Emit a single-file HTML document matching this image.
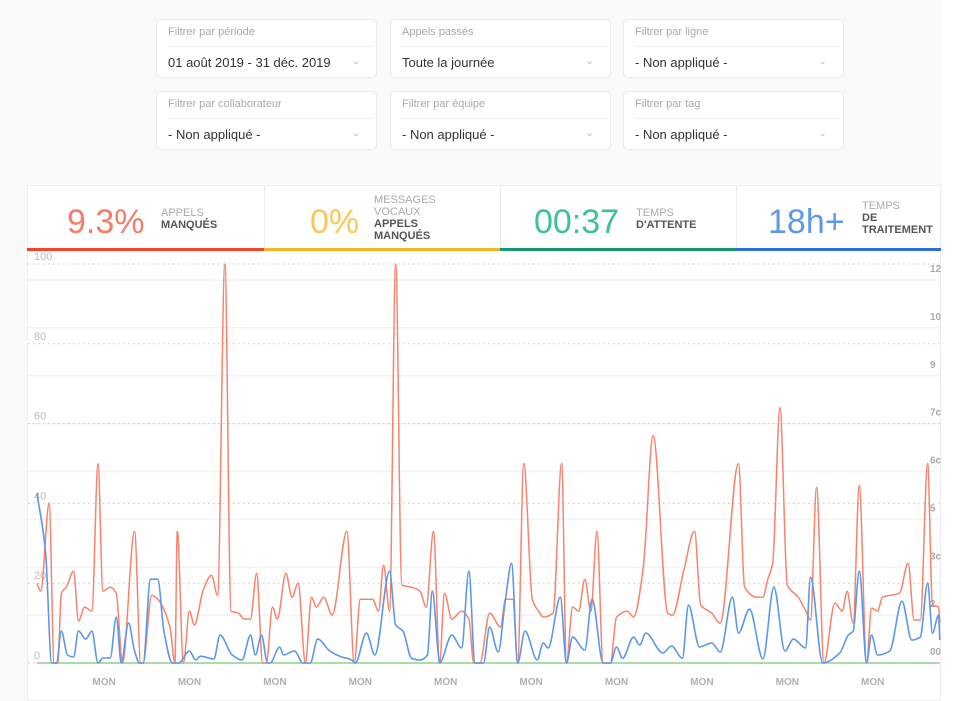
<!DOCTYPE html>
<html><head><meta charset="utf-8">
<style>
html,body{margin:0;padding:0;width:976px;height:701px;overflow:hidden;background:#fff;font-family:"Liberation Sans",sans-serif;}
#page{position:absolute;left:0;top:0;width:941px;height:701px;background:#fafaf8;}
.filter{position:absolute;width:221px;height:59px;background:#fff;border:1px solid #ebebea;border-radius:5px;box-sizing:border-box;}
.filter .lbl{position:absolute;left:11px;top:6px;font-size:11px;color:#a9a9a9;}
.filter .sep{position:absolute;left:11px;right:3px;top:26px;border-top:1px solid #eee;}
.filter .val{position:absolute;left:11px;top:35px;font-size:13px;color:#333;}
.filter .chev{position:absolute;right:16px;top:36px;font-size:10px;color:#bbb;}
#card{position:absolute;left:27px;top:185px;width:914px;height:516px;background:#fff;border:1px solid #eee;box-sizing:border-box;}
.kpi{position:absolute;top:185px;height:66px;}
.kpi .num{position:absolute;font-size:34px;font-weight:300;top:18px;}
.kpi .txt{position:absolute;font-size:11px;line-height:12px;color:#555;font-weight:bold;}
.kpi .txt span{color:#aaa;font-weight:normal;}
.kpi .bar{position:absolute;left:0;right:0;bottom:0;height:3px;}
.kdiv{position:absolute;top:185px;width:1px;height:63px;background:#ececec;}
</style></head><body>
<div id="page">
<div class="filter" style="left:156px;top:19px"><div class="lbl">Filtrer par période</div><div class="sep"></div><div class="val">01 août 2019 - 31 déc. 2019</div><div class="chev">⌄</div></div>
<div class="filter" style="left:390px;top:19px"><div class="lbl">Appels passés</div><div class="sep"></div><div class="val">Toute la journée</div><div class="chev">⌄</div></div>
<div class="filter" style="left:623px;top:19px"><div class="lbl">Filtrer par ligne</div><div class="sep"></div><div class="val">- Non appliqué -</div><div class="chev">⌄</div></div>
<div class="filter" style="left:156px;top:91px"><div class="lbl">Filtrer par collaborateur</div><div class="sep"></div><div class="val">- Non appliqué -</div><div class="chev">⌄</div></div>
<div class="filter" style="left:390px;top:91px"><div class="lbl">Filtrer par équipe</div><div class="sep"></div><div class="val">- Non appliqué -</div><div class="chev">⌄</div></div>
<div class="filter" style="left:623px;top:91px"><div class="lbl">Filtrer par tag</div><div class="sep"></div><div class="val">- Non appliqué -</div><div class="chev">⌄</div></div>

<div id="card"></div>
<div class="kpi" style="left:27px;width:237px"><div class="num" style="left:40px;color:#f47d66">9.3%</div><div class="txt" style="left:134px;top:22px"><span>APPELS</span><br>MANQUÉS</div><div class="bar" style="background:#f4472a"></div></div>
<div class="kpi" style="left:264px;width:236px"><div class="num" style="left:46px;color:#f8c85a">0%</div><div class="txt" style="left:110px;top:9px"><span>MESSAGES<br>VOCAUX</span><br>APPELS<br>MANQUÉS</div><div class="bar" style="background:#f4b425"></div></div>
<div class="kpi" style="left:500px;width:236px"><div class="num" style="left:34px;color:#3cc29a">00:37</div><div class="txt" style="left:136px;top:22px"><span>TEMPS</span><br>D'ATTENTE</div><div class="bar" style="background:#13996f"></div></div>
<div class="kpi" style="left:736px;width:205px"><div class="num" style="left:32px;color:#5f98ea">18h+</div><div class="txt" style="left:126px;top:15px"><span>TEMPS</span><br>DE<br>TRAITEMENT</div><div class="bar" style="background:#2a6fdc"></div></div>
<div class="kdiv" style="left:264px"></div><div class="kdiv" style="left:500px"></div><div class="kdiv" style="left:736px"></div>

<svg id="chart" width="941" height="701" style="position:absolute;left:0;top:0"></svg>
</div>
<script>
const yTicks=[0,20,40,60,80,100];
const yTickLabels=["0","20","40","60","80","100"];
const rightLabels=["12","10c","9","7c","6c","5","3c","2","00n"];
const rightLabelVals=[99,87,75,63,51,39,27,15,3];
const minorGrid=[12,24,36,48,60,72,84,96];
const xTickDays=[5.5,12.5,19.5,26.5,33.5,40.5,47.5,54.5,61.5,68.5];
const xTickLabels=["MON","MON","MON","MON","MON","MON","MON","MON","MON","MON"];
const redDays=[0,0.3,1.0,1.4,1.7,2.0,2.4,3.0,3.4,3.9,4.5,5.0,5.4,6.0,6.5,7.0,8.0,8.5,8.7,9.4,9.9,10.9,11.3,11.5,12.0,12.5,12.9,13.6,14.3,14.8,15.4,15.9,16.5,17.0,17.5,18.0,18.5,18.8,19.3,19.7,20.4,20.9,21.4,22.0,22.5,22.9,23.5,24.2,25.4,26.0,26.5,27.5,28.0,28.4,28.9,29.4,29.9,30.7,31.4,31.9,32.5,33.0,33.4,34.0,34.8,35.4,35.8,36.3,37.1,38.0,38.4,39.0,39.4,39.9,40.6,41.1,41.5,42.3,43.0,43.4,43.9,44.4,44.9,45.4,45.9,46.4,47.0,47.5,48.4,48.9,49.7,50.5,51.7,52.1,53.0,53.9,54.4,55.3,56.0,57.5,58.0,59.0,59.5,59.9,60.3,60.9,61.5,62.4,63.1,63.4,63.9,64.5,65.4,66.0,66.4,66.9,67.4,68.0,68.4,68.9,69.3,70.7,71.4,71.9,72.4,73.0,73.4,73.9,74.0];
const redVals=[20,18,40,0,0,17.5,19,23,10.5,14,13,50,18,19,17.5,0,33,0,0,17,16,9,0,33,0,13,9.5,18,22,17,100,13,12.5,11,11,22.5,0,0,14,11,22.5,16.5,20,0,16.5,14,16.5,12,33,0,16,16,13,24.5,13,100,19.5,19,18,14,33,0,17.5,11,13,11,0,0,12.5,9,16,16,0,50,16,13,11.5,12.5,50,0,14,13,21,13,33,0,0,11.5,13,11.5,24,57,12.5,12,23,33,14.5,12.5,10,50,19,16.5,16.5,21,25,64,19.5,16.5,12.5,10.75,44,0,15,13,18,10,44.5,0,13.75,13,16.5,17.5,25,10.75,10.75,50,14.5,14,10];
const blueDays=[0,0.7,1.2,1.6,2.0,2.5,3.0,3.4,4.0,4.5,5.0,5.4,6.0,6.5,6.9,7.5,8.0,8.4,8.7,9.3,9.9,10.4,11.1,11.6,12.5,13.0,13.4,14.5,15.0,16.0,16.8,17.5,17.9,18.4,18.9,19.1,19.9,20.2,21.1,21.8,22.4,23.0,24.0,24.8,25.8,26.1,27.0,27.7,28.9,29.4,30.0,30.7,31.4,32.0,32.4,32.9,33.0,34.0,34.8,35.4,35.9,36.6,37.1,37.8,38.4,38.9,39.4,40.0,41.0,41.5,41.9,42.9,43.4,43.9,44.9,45.5,46.4,47.0,47.5,48.0,48.9,49.4,49.9,51.3,52.0,52.9,53.4,54.3,55.3,56.0,57.0,57.5,58.4,59.5,60.4,61.3,62.0,63.0,63.4,64.4,65.8,66.5,66.9,67.4,68.0,68.4,68.9,69.9,70.9,71.7,72.4,73.0,73.4,73.9,74.0];
const blueVals=[42.5,28,0,0,8,2,1.5,8,6,8,0,1.25,1.25,11.5,0,10,3,0,0,21,21,8,0,0,3,0.75,1.7,1,7,2,0.75,7,2,7,0,0,4,2,3,0,0,6,3,1.7,0.75,0,7.5,2,23,9.5,8,1.2,0.75,2,18,2,0,7,3.75,23,0,0,9,2.75,16,25,0,8,0.75,5,3.75,16.5,0,6.5,3.25,16,0,0,4,1.2,6.5,4.5,7.5,2.5,4.25,1.2,14.5,4,5,2.75,16.5,7.5,13.5,1,19,3,6,3.75,21.5,0,2.5,7,8,23,0,7,2,3,15.5,5.75,6.5,20,7.5,12,5.75];
const zeroDays=[0,74];
const zeroVals=[0,0];

const NS="http://www.w3.org/2000/svg";
const svg=document.getElementById('chart');
const X0=37,DAYPX=12.2,Y0=663,VPX=3.99,XR=941;
function xs(d){return X0+d*DAYPX;}
function ys(v){return Y0-v*VPX;}
function mk(tag,attrs,parent){const e=document.createElementNS(NS,tag);for(const k in attrs)e.setAttribute(k,attrs[k]);(parent||svg).appendChild(e);return e;}
const defs=mk('defs',{});
const cp=mk('clipPath',{id:'clip'},defs);
mk('rect',{x:27,y:250,width:XR-27,height:451},cp);
minorGrid.forEach(v=>{
  const l=mk('line',{x1:28,x2:XR,y1:ys(v),y2:ys(v),stroke:'#f3f3f3','stroke-width':1.5});
  
  
});
yTicks.forEach((v,i)=>{
  const l=mk('line',{x1:28,x2:XR,y1:ys(v),y2:ys(v),stroke:'#c8c8c8','stroke-width':1,'stroke-dasharray':'1.5,3.5'});
  
  
  const t=mk('text',{x:34,y:ys(v)-4,'font-size':11,fill:'#bbb','font-family':'Liberation Sans, sans-serif'});
  t.textContent=yTickLabels[i];
  
  
});
const rg=mk('g',{'clip-path':'url(#clip)'});
rightLabels.forEach((s,i)=>{
  const t=mk('text',{x:930,y:ys(rightLabelVals[i])+4,'font-size':10,'font-weight':'bold',fill:'#aaa','font-family':'Liberation Sans, sans-serif'},rg);
  t.textContent=s;
  
  
});
xTickDays.forEach((d,i)=>{
  const t=mk('text',{x:xs(d),y:685,'font-size':10,'font-weight':'bold',fill:'#b0b0b0','text-anchor':'middle','font-family':'Liberation Sans, sans-serif'});
  t.textContent=xTickLabels[i];
  
  
});
function monoPath(ds,vs){
  const px=ds.map(xs),py=vs.map(ys),n=px.length;
  const dx=[],m=[],t=new Array(n);
  for(let i=0;i<n-1;i++){dx[i]=Math.max(px[i+1]-px[i],0.01);m[i]=(py[i+1]-py[i])/dx[i];}
  t[0]=m[0];t[n-1]=m[n-2];
  for(let i=1;i<n-1;i++){const a=m[i-1],b=m[i];t[i]=(a*b<=0)?0:2*a*b/(a+b);}
  let d='M'+px[0].toFixed(1)+','+py[0].toFixed(1);
  for(let i=0;i<n-1;i++){const h=dx[i]/3;
    d+='C'+(px[i]+h).toFixed(1)+','+(py[i]+t[i]*h).toFixed(1)+' '+(px[i+1]-h).toFixed(1)+','+(py[i+1]-t[i+1]*h).toFixed(1)+' '+px[i+1].toFixed(1)+','+py[i+1].toFixed(1);}
  return d;
}
const zl=mk('path',{d:monoPath(zeroDays,zeroVals),stroke:'#8fd48a','stroke-width':1.5,fill:'none','clip-path':'url(#clip)'});


const rl=mk('path',{d:monoPath(redDays,redVals),stroke:'#f8826c','stroke-width':1.5,fill:'none','clip-path':'url(#clip)'});


const bl=mk('path',{d:monoPath(blueDays,blueVals),stroke:'#5b98ea','stroke-width':1.6,fill:'none','clip-path':'url(#clip)'});


</script>
</body></html>
